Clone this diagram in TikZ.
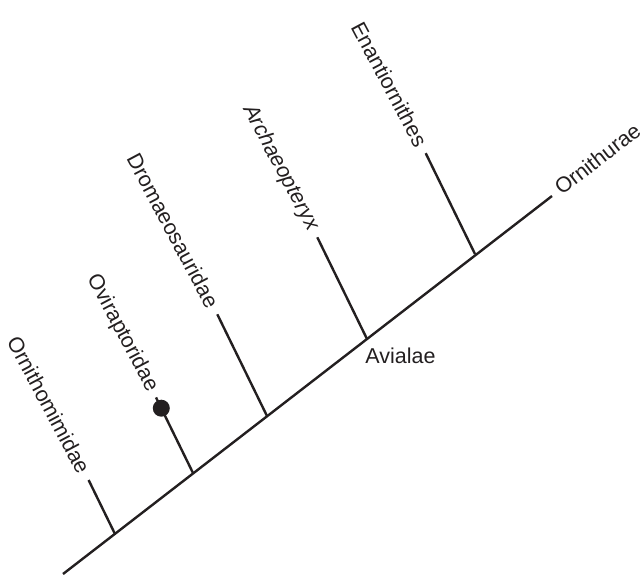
\documentclass[tikz,border=0pt]{standalone}
\usepackage{fontspec}
\setmainfont{Liberation Sans}
\definecolor{ink}{RGB}{35,31,32}
\begin{document}
\begin{tikzpicture}[x=1pt,y=-1pt,
  branch/.style={draw=ink, line width=2.4pt},
  lbl/.style={font=\fontsize{21.5}{26}\selectfont, text=ink, inner sep=0pt},
  taxon/.style={lbl, rotate=-62, anchor=east}]
\useasboundingbox (0,0) rectangle (643,574);
% stem
\coordinate (root) at (63,574);
\coordinate (tip) at (552,196);
% junctions on the stem
\coordinate (j1) at (115,534);
\coordinate (j2) at (193,473);
\coordinate (j3) at (267,416);
\coordinate (j4) at (367,339);
\coordinate (j5) at (475,254);
% branch tops
\coordinate (t1) at (88.6,480);
\coordinate (t2) at (156,397.4);
\coordinate (t3) at (217.3,314.3);
\coordinate (t4) at (317.3,237.3);
\coordinate (t5) at (425.7,153.2);
\draw[branch] (root) -- (tip);
\draw[branch] (j1) -- (t1);
\draw[branch] (j2) -- (t2);
\draw[branch] (j3) -- (t3);
\draw[branch] (j4) -- (t4);
\draw[branch] (j5) -- (t5);
\node[circle, fill=ink, inner sep=0pt, minimum size=17pt] (dot) at (161.3,408.2) {};
% labels
\node[taxon] (n1) at (84.6,471.9) {Ornithomimidae};
\node[taxon] (n2) at (152.5,390.2) {Oviraptoridae};
\node[taxon] (n3) at (213.3,306.2) {Dromaeosauridae};
\node[taxon] (n4) at (313.3,229.2) {\itshape Archaeopteryx};
\node[taxon] (n5) at (421.8,145.1) {Enantiornithes};
\node[lbl, rotate=37.7, anchor=west] (n6) at (557,190) {Ornithurae};
\node[lbl, anchor=base] (n7) at (400.5,363) {Avialae};
\end{tikzpicture}
\end{document}
